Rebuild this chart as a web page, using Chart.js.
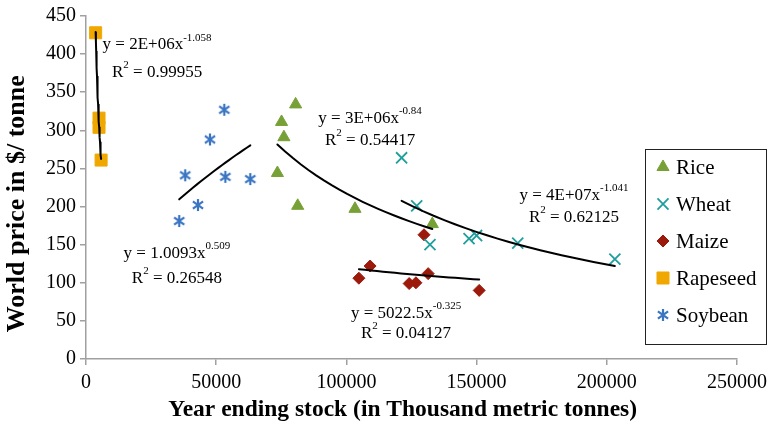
<!DOCTYPE html>
<html>
<head>
<meta charset="utf-8">
<script src="https://cdn.jsdelivr.net/npm/chart.js@4.4.0/dist/chart.umd.min.js"></script>
<style>
  html, body { margin: 0; padding: 0; background: #fff; }
</style>
</head>
<body>
<canvas id="chart" width="773" height="431"></canvas>
<script>
// stock (thousand t) / price ($/t)
const riceX = [80500, 75100, 76000, 73500, 81300, 103300, 133000];
const riceY = [334, 311, 291, 244, 201, 197, 177];
const wheatX = [121200, 127000, 132100, 147100, 150000, 165800, 203100];
const wheatY = [264, 201, 150, 158, 162, 152, 131];
const maizeX = [129800, 109100, 104800, 124100, 126700, 131400, 151000];
const maizeY = [163, 122, 106, 99, 100, 112, 90];
const rapeX = [3700, 5000, 5000, 5800];
const rapeY = [428, 316, 304, 261];
const soyX = [53100, 47600, 38100, 53500, 63100, 43000, 35800];
const soyY = [327, 288, 241, 239, 236, 202, 181];

const seriesNames = ['Rice', 'Wheat', 'Maize', 'Rapeseed', 'Soybean'];

// trendline labels (as printed by excel)
const eqText = ['y = 3E+06x', 'y = 4E+07x', 'y = 5022.5x', 'y = 2E+06x', 'y = 1.0093x'];
const eqPow = ['-0.84', '-1.041', '-0.325', '-1.058', '0.509'];
const r2Text = ['0.54417', '0.62125', '0.04127', '0.99955', '0.26548'];
// where the labels sit (data coords): centre x, line 1 y, line 2 y
const eqPlace = [
  { x: 109100, y1: 316, y2: 287 },
  { x: 187400, y1: 215, y2: 186 },
  { x: 122900, y1: 60, y2: 34 },
  { x: 27300, y1: 412, y2: 376 },
  { x: 34900, y1: 139, y2: 106 }
];

const FONT = '"Liberation Serif", "Times New Roman", serif';
Chart.defaults.font.family = FONT;
Chart.defaults.color = '#000';

function asterisk(color, size) {
  const c = document.createElement('canvas');
  c.width = size; c.height = size;
  const g = c.getContext('2d');
  const m = size / 2, r = size / 2 - 1;
  g.strokeStyle = color;
  g.lineWidth = 2.2;
  g.beginPath();
  g.moveTo(m, m - r); g.lineTo(m, m + r);
  g.moveTo(m - r * 0.85, m - r * 0.6); g.lineTo(m + r * 0.85, m + r * 0.6);
  g.moveTo(m - r * 0.85, m + r * 0.6); g.lineTo(m + r * 0.85, m - r * 0.6);
  g.stroke();
  return c;
}

const styles = [
  { color: '#77A136', pointStyle: 'triangle', radius: 7, bw: 1 },
  { color: '#1E9E9C', pointStyle: 'crossRot', radius: 7.8, bw: 1.8 },
  { color: '#9C1A0C', pointStyle: 'rectRot', radius: 6, bw: 1 },
  { color: '#F0A800', pointStyle: 'rect', radius: 8.5, bw: 1 },
  { color: '#3A75C2', pointStyle: asterisk('#3A75C2', 14), radius: 7, bw: 1 }
];

function pts(xs, ys) { return xs.map((x, i) => ({ x: x, y: ys[i] })); }

// excel style power trendline, fitted in log space
function powerTrend(xs, ys) {
  const n = xs.length;
  let sx = 0, sy = 0, sxx = 0, sxy = 0;
  for (let i = 0; i < n; i++) {
    const lx = Math.log(xs[i]), ly = Math.log(ys[i]);
    sx += lx; sy += ly; sxx += lx * lx; sxy += lx * ly;
  }
  const b = (n * sxy - sx * sy) / (n * sxx - sx * sx);
  const a = Math.exp((sy - b * sx) / n);
  const lo = Math.min(...xs), hi = Math.max(...xs);
  const steps = 20;
  const out = [];
  for (let i = 0; i <= steps; i++) {
    const x = lo + (hi - lo) * i / steps;
    out.push({ x: x, y: a * Math.pow(x, b) });
  }
  return out;
}

const allX = [riceX, wheatX, maizeX, rapeX, soyX];
const allY = [riceY, wheatY, maizeY, rapeY, soyY];

const datasets = [];
seriesNames.forEach((name, i) => {
  const s = styles[i];
  datasets.push({
    label: name,
    data: pts(allX[i], allY[i]),
    pointStyle: s.pointStyle,
    pointRadius: s.radius,
    pointHoverRadius: s.radius,
    pointBackgroundColor: s.color,
    pointBorderColor: s.color,
    pointBorderWidth: s.bw,
    showLine: false,
    order: 1
  });
});
seriesNames.forEach((name, i) => {
  datasets.push({
    label: name + ' trend',
    data: powerTrend(allX[i], allY[i]),
    showLine: true,
    borderColor: '#000',
    borderWidth: 2,
    borderCapStyle: 'round',
    pointRadius: 0,
    tension: 0,
    order: 0
  });
});

// equations next to the fitted lines
const eqPlugin = {
  id: 'eqLabels',
  afterDatasetsDraw(chart) {
    const ctx = chart.ctx;
    const xs = chart.scales.x, ys = chart.scales.y;
    const main = '17px ' + FONT, sup = '11px ' + FONT;
    ctx.save();
    ctx.fillStyle = '#000';
    ctx.textBaseline = 'middle';
    ctx.textAlign = 'left';
    eqPlace.forEach((p, i) => {
      const cx = xs.getPixelForValue(p.x);
      let y = ys.getPixelForValue(p.y1);
      ctx.font = main;
      const w1 = ctx.measureText(eqText[i]).width;
      ctx.font = sup;
      const w2 = ctx.measureText(eqPow[i]).width;
      let x = cx - (w1 + w2) / 2;
      ctx.font = main;
      ctx.fillText(eqText[i], x, y);
      ctx.font = sup;
      ctx.fillText(eqPow[i], x + w1, y - 7);

      y = ys.getPixelForValue(p.y2);
      const rest = ' = ' + r2Text[i];
      ctx.font = main;
      const wR = ctx.measureText('R').width, wRest = ctx.measureText(rest).width;
      ctx.font = sup;
      const w3 = ctx.measureText('2').width;
      x = cx - (wR + w3 + wRest) / 2;
      ctx.font = main;
      ctx.fillText('R', x, y);
      ctx.fillText(rest, x + wR + w3, y);
      ctx.font = sup;
      ctx.fillText('2', x + wR, y - 7);
    });
    ctx.restore();
  }
};

// boxed legend sitting over the plot
const legendPlugin = {
  id: 'boxLegend',
  afterDraw(chart) {
    const ctx = chart.ctx;
    const left = 645, top = 149, right = 766, bottom = 344;
    ctx.save();
    ctx.fillStyle = '#fff';
    ctx.fillRect(left, top, right - left, bottom - top);
    ctx.strokeStyle = '#222';
    ctx.lineWidth = 1;
    ctx.strokeRect(left + 0.5, top + 0.5, right - left, bottom - top);
    ctx.font = '21px ' + FONT;
    ctx.textBaseline = 'middle';
    seriesNames.forEach((name, i) => {
      const y = 167 + i * 37;
      const s = styles[i];
      ctx.fillStyle = s.color;
      ctx.strokeStyle = s.color;
      ctx.lineWidth = s.bw;
      Chart.helpers.drawPoint(ctx, { pointStyle: s.pointStyle, radius: s.radius, rotation: 0, borderWidth: s.bw }, 663, y);
      ctx.fillStyle = '#000';
      ctx.fillText(name, 676, y + 1);
    });
    ctx.restore();
  }
};

const axisGrey = '#a0a0a0';
const tickFont = { family: FONT, size: 20 };

new Chart(document.getElementById('chart'), {
  type: 'scatter',
  data: { datasets: datasets },
  options: {
    responsive: false,
    animation: false,
    layout: { padding: { left: 0, right: 36, top: 16, bottom: 3 } },
    plugins: {
      legend: { display: false },
      tooltip: { enabled: false }
    },
    scales: {
      x: {
        type: 'linear',
        min: 0,
        max: 250000,
        ticks: { stepSize: 50000, color: '#000', font: tickFont, padding: 6, maxRotation: 0, callback: v => String(v) },
        grid: { drawOnChartArea: false, drawTicks: true, tickLength: 6, color: axisGrey, lineWidth: 1.5 },
        border: { color: axisGrey, width: 1.5 },
        // trailing spaces nudge the title a bit left like the original
        title: { display: true, text: 'Year ending stock (in Thousand metric tonnes)   ', color: '#000', font: { family: FONT, size: 23.5, weight: 'bold' }, padding: { top: 4, bottom: 4 } },
        afterFit(s) { s.height = 69; }
      },
      y: {
        min: 0,
        max: 450,
        ticks: { stepSize: 50, color: '#000', font: tickFont, padding: 4, callback: v => String(v) },
        grid: { drawOnChartArea: false, drawTicks: true, tickLength: 6, color: axisGrey, lineWidth: 1.5 },
        border: { color: axisGrey, width: 1.5 },
        title: { display: true, text: 'World price in $/ tonne     ', color: '#000', font: { family: FONT, size: 26, weight: 'bold' }, padding: { top: 2, bottom: 4 } },
        afterFit(s) { s.width = 86; }
      }
    }
  },
  plugins: [eqPlugin, legendPlugin]
});
</script>
</body>
</html>
